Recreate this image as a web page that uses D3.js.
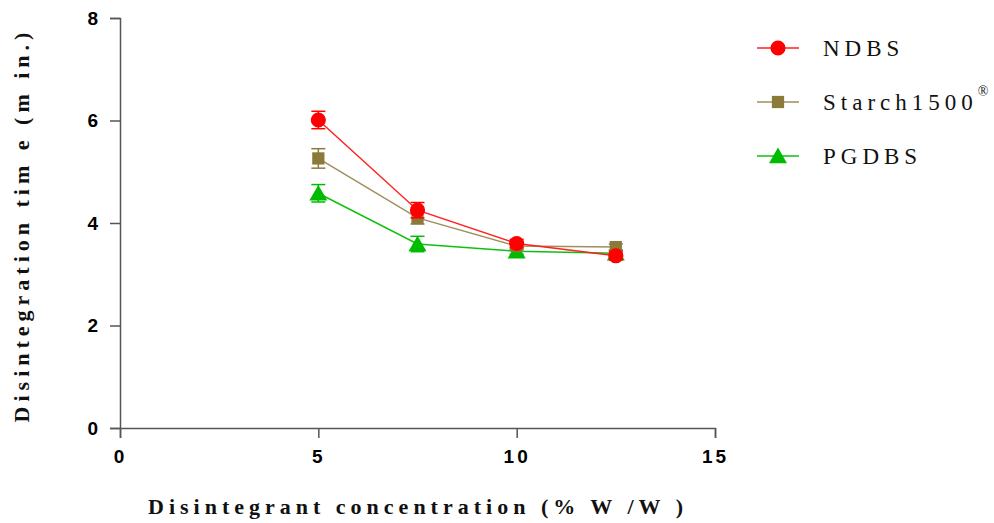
<!DOCTYPE html>
<meta charset="utf-8">
<style>
 body { margin: 0; background: #fff; }
 .tick text { font: bold 19px "Liberation Sans", Arial, sans-serif; fill: #000; }
 .domain, .tick line { stroke: #555; stroke-width: 1.5px; }
 .title { font: bold 22px "Liberation Serif", "Times New Roman", serif; letter-spacing: 5px; fill: #111; }
 .legend text { font: 23px "Liberation Serif", "Times New Roman", serif; letter-spacing: 5px; fill: #111; }
</style>
<svg class="chart" width="994" height="523"></svg>
<script src="https://cdn.jsdelivr.net/npm/d3@7"></script>
<script>

 var conc = [5, 7.5, 10, 12.5];
 var seriesNames = ["NDBS", "Starch1500", "PGDBS"];
 var ndbs = [6.01, 4.25, 3.60, 3.36];
 var ndbsErr = [0.17, 0.15, 0.08, 0.08];
 var starch = [5.26, 4.10, 3.55, 3.53];
 var starchErr = [0.19, 0.12, 0.07, 0.06];
 var pgdbs = [4.58, 3.59, 3.45, 3.41];
 var pgdbsErr = [0.17, 0.15, 0.06, 0.06];
 var xTicks = [0, 5, 10, 15];
 var yTicks = [0, 2, 4, 6, 8];

 var colors = ["#ff0000", "#8b7a3a", "#00bb00"];
 var lineColors = ["#ff2020", "#a08e5c", "#10c010"];
 var shapes = [d3.symbolCircle, d3.symbolSquare, d3.symbolTriangle];
 var sizes = [180, 150, 140];

 var series = [
   {name: seriesNames[0], vals: ndbs, err: ndbsErr},
   {name: seriesNames[1], vals: starch, err: starchErr},
   {name: seriesNames[2], vals: pgdbs, err: pgdbsErr}
 ];

 var svg = d3.select(".chart");

 var x = d3.scaleLinear().domain([0, 15]).range([120, 715]);
 var y = d3.scaleLinear().domain([0, 8]).range([428, 18]);

 svg.append("g").attr("transform", "translate(0,428)")
    .call(d3.axisBottom(x).tickValues(xTicks).tickSize(10).tickPadding(12))
    .call(function(g) { g.selectAll(".tick text").attr("letter-spacing", "3px"); });

 svg.append("g").attr("transform", "translate(120,0)")
    .call(d3.axisLeft(y).tickValues(yTicks).tickSize(10).tickPadding(12));

 // draw back to front so red sits on top
 var order = [2, 1, 0];
 order.forEach(function(i) {
   var s = series[i];
   var pts = conc.map(function(c, j) { return {x: c, y: s.vals[j], e: s.err[j]}; });
   var g = svg.append("g");

   g.append("path").datum(pts)
    .attr("fill", "none").attr("stroke", lineColors[i]).attr("stroke-width", 1.5)
    .attr("d", d3.line().x(function(d) { return x(d.x); }).y(function(d) { return y(d.y); }));

   var eb = g.selectAll(".eb").data(pts).enter().append("g")
             .attr("stroke", colors[i]).attr("stroke-width", 1.5);
   eb.append("line")
     .attr("x1", function(d) { return x(d.x); }).attr("x2", function(d) { return x(d.x); })
     .attr("y1", function(d) { return y(d.y + d.e); }).attr("y2", function(d) { return y(d.y - d.e); });
   eb.append("line")
     .attr("x1", function(d) { return x(d.x) - 7; }).attr("x2", function(d) { return x(d.x) + 7; })
     .attr("y1", function(d) { return y(d.y + d.e); }).attr("y2", function(d) { return y(d.y + d.e); });
   eb.append("line")
     .attr("x1", function(d) { return x(d.x) - 7; }).attr("x2", function(d) { return x(d.x) + 7; })
     .attr("y1", function(d) { return y(d.y - d.e); }).attr("y2", function(d) { return y(d.y - d.e); });

   g.selectAll(".pt").data(pts).enter().append("path")
    .attr("fill", colors[i])
    .attr("transform", function(d) { return "translate(" + x(d.x) + "," + (y(d.y) + (i == 2 ? 2 : 0)) + ")"; })
    .attr("d", d3.symbol().type(shapes[i]).size(sizes[i]));
 });

 // axis titles
 svg.append("text").attr("class", "title")
    .attr("x", 418).attr("y", 514).attr("text-anchor", "middle")
    .text("Disintegrant concentration (% W /W )");

 svg.append("text").attr("class", "title")
    .attr("transform", "translate(29,225) rotate(-90)").attr("text-anchor", "middle")
    .text("Disintegration tim e (m in.)");

 // legend
 var legendY = [48, 102, 156];
 var leg = svg.selectAll(".legend").data(series).enter().append("g")
              .attr("class", "legend")
              .attr("transform", function(d, i) { return "translate(757," + legendY[i] + ")"; });
 leg.append("line").attr("x1", 0).attr("x2", 42).attr("y1", 0).attr("y2", 0)
    .attr("stroke", function(d, i) { return lineColors[i]; }).attr("stroke-width", 1.5);
 leg.append("path")
    .attr("transform", function(d, i) { return "translate(21," + (i == 2 ? 2 : 0) + ")"; })
    .attr("fill", function(d, i) { return colors[i]; })
    .attr("d", function(d, i) { return d3.symbol().type(shapes[i]).size(sizes[i])(); });
 var lt = leg.append("text").attr("x", 66).attr("y", 8).text(function(d) { return d.name; });
 lt.filter(function(d, i) { return i == 1; }).append("tspan")
   .attr("dx", 0).attr("dy", -14).attr("font-size", "14px").attr("letter-spacing", "0px").text("®");

</script>
